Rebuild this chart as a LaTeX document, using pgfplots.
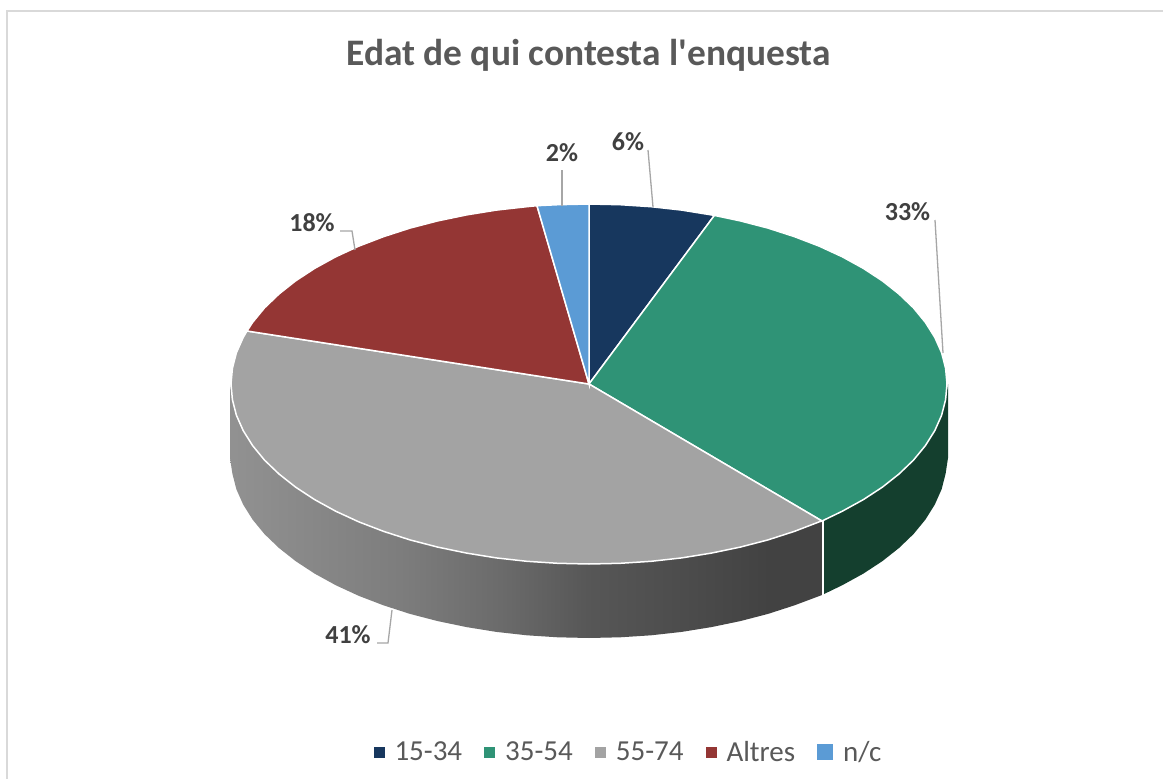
\documentclass[border=0pt]{standalone}
\usepackage{pgfplots}
\pgfplotsset{compat=1.18}
\usepackage{fontspec}
\setmainfont{Carlito}
\definecolor{cNavy}{HTML}{17375E}
\definecolor{cGreen}{HTML}{2F9376}
\definecolor{cGrey}{HTML}{A3A3A3}
\definecolor{cRed}{HTML}{943634}
\definecolor{cBlue}{HTML}{5B9BD5}
\definecolor{cDarkGreen}{HTML}{143F2E}
\definecolor{cLab}{HTML}{404040}
\definecolor{cTxt}{HTML}{595959}
\definecolor{cLead}{HTML}{A6A6A6}
\definecolor{cFrame}{HTML}{D9D9D9}
\pgfdeclarehorizontalshading{wallgrad}{100bp}{
  rgb(0bp)=(.57,.57,.57); rgb(25bp)=(.57,.57,.57);
  rgb(39.4bp)=(.49,.49,.49); rgb(47.8bp)=(.42,.42,.42);
  rgb(55.3bp)=(.34,.34,.34); rgb(63bp)=(.30,.30,.30);
  rgb(70.4bp)=(.26,.26,.26); rgb(75bp)=(.26,.26,.26); rgb(100bp)=(.26,.26,.26)}
\newcommand{\lab}[1]{\fontsize{26}{30}\selectfont\bfseries\textcolor{cLab}{#1}}
\begin{document}
\begin{tikzpicture}
\begin{axis}[
  scale only axis, width=1163pt, height=779pt,
  xmin=0, xmax=1163, ymin=0, ymax=779, y dir=reverse,
  hide axis, clip=true,
  legend columns=5,
  legend style={draw=none, fill=none, at={(axis cs:373.5,752)}, anchor=west, inner sep=0pt, outer sep=0pt,
     text=cTxt, font=\fontsize{29}{33}\selectfont,
     /tikz/every even column/.append style={column sep=20pt},
     /tikz/every odd column/.append style={column sep=8pt}},
  legend cell align=left,
]
% page background
\addplot[fill=white, draw=none, forget plot] coordinates {(0,0) (1163,0) (1163,779) (0,779)} --cycle;
% frame of the chart area
\addplot[cFrame, line width=2pt, forget plot] coordinates {(7,779) (7,11) (1163,11)};

% wall of the 55-74 slice
\addplot[shade, shading=wallgrad, draw=none, forget plot] coordinates {
(230,384) (232.4,399.7) (236.4,415.3) (243.2,430.6) (252.6,445.6) (264.5,460.1) (279,474) (295.7,487.2) (314.8,499.7) (335.9,511.3) (358.9,521.9) (383.7,531.4) (410,539.9) (437.7,547.1) (466.6,553.1) (496.3,557.9) (526.8,561.3) (557.8,563.3) (589,564) (620.2,563.3) (651.2,561.3) (681.7,557.9) (711.4,553.1) (740.3,547.1) (768,539.9) (794.3,531.4) (822,521)
(822,595) (794.3,605.4) (768,613.9) (740.3,621.1) (711.4,627.1) (681.7,631.9) (651.2,635.3) (620.2,637.3) (589,638) (557.8,637.3) (526.8,635.3) (496.3,631.9) (466.6,627.1) (437.7,621.1) (410,613.9) (383.7,605.4) (358.9,595.9) (335.9,585.3) (314.8,573.7) (295.7,561.2) (279,548) (264.5,534.1) (252.6,519.6) (243.2,504.6) (236.4,489.3) (232.4,473.7) (230,458)
} --cycle;

% wall of the 35-54 slice
\addplot[fill=cDarkGreen, draw=none, forget plot] coordinates {
(822,521) (842.1,511.3) (863.2,499.7) (882.3,487.2) (899,474) (913.5,460.1) (925.4,445.6) (934.8,430.6) (941.6,415.3) (945.6,399.7) (948,384)
(948,458) (945.6,473.7) (941.6,489.3) (934.8,504.6) (925.4,519.6) (913.5,534.1) (899,548) (882.3,561.2) (863.2,573.7) (842.1,585.3) (822,595)
} --cycle;
\addplot[white, line width=1.5pt, forget plot] coordinates {(823,521) (823,596)};

% top of the pie; a slice per category
\addplot[fill=cNavy, draw=white, line width=1.5pt, area legend,
  legend image code/.code={\node[fill=cNavy, inner sep=0pt, minimum size=11pt] {};}] coordinates {
(589,384) (589,204) (620.2,204.7) (651.2,206.7) (681.7,210.1) (711.4,214.9) (714.4,215.4)
} --cycle;
\addplot[fill=cGreen, draw=white, line width=1.5pt, area legend,
  legend image code/.code={\node[fill=cGreen, inner sep=0pt, minimum size=11pt] {};}] coordinates {
(589,384) (714.4,215.4) (740.3,220.9) (768,228.1) (794.3,236.6) (819.1,246.1) (842.1,256.7) (863.2,268.3) (882.3,280.8) (899,294) (913.5,307.9) (925.4,322.4) (934.8,337.4) (941.6,352.7) (945.6,368.3) (947,384) (945.6,399.7) (941.6,415.3) (934.8,430.6) (925.4,445.6) (913.5,460.1) (899,474) (882.3,487.2) (863.2,499.7) (842.1,511.3) (822,521)
} --cycle;
\addplot[fill=cGrey, draw=white, line width=1.5pt, area legend,
  legend image code/.code={\node[fill=cGrey, inner sep=0pt, minimum size=11pt] {};}] coordinates {
(589,384) (822,521) (819.1,521.9) (794.3,531.4) (768,539.9) (740.3,547.1) (711.4,553.1) (681.7,557.9) (651.2,561.3) (620.2,563.3) (589,564) (557.8,563.3) (526.8,561.3) (496.3,557.9) (466.6,553.1) (437.7,547.1) (410,539.9) (383.7,531.4) (358.9,521.9) (335.9,511.3) (314.8,499.7) (295.7,487.2) (279,474) (264.5,460.1) (252.6,445.6) (243.2,430.6) (236.4,415.3) (232.4,399.7) (231,384) (232.4,368.3) (236.4,352.7) (243.2,337.4) (247,331)
} --cycle;
\addplot[fill=cRed, draw=white, line width=1.5pt, area legend,
  legend image code/.code={\node[fill=cRed, inner sep=0pt, minimum size=11pt] {};}] coordinates {
(589,384) (247,331) (252.6,322.4) (264.5,307.9) (279,294) (295.7,280.8) (314.8,268.3) (335.9,256.7) (358.9,246.1) (383.7,236.6) (410,228.1) (437.7,220.9) (466.6,214.9) (496.3,210.1) (526.8,206.7) (537,205.7)
} --cycle;
\addplot[fill=cBlue, draw=white, line width=1.5pt, area legend,
  legend image code/.code={\node[fill=cBlue, inner sep=0pt, minimum size=16pt] {};}] coordinates {
(589,384) (537,205.7) (557.8,204.7) (589,204)
} --cycle;
\legend{15-34,35-54,55-74,Altres,n/c}

% leader lines
\addplot[cLead, line width=1.3pt, forget plot] coordinates {(648,150) (653,207)};
\addplot[cLead, line width=1.3pt, forget plot] coordinates {(935,220) (943,353)};
\addplot[cLead, line width=1.3pt, forget plot] coordinates {(377,643) (388,643) (392,610)};
\addplot[cLead, line width=1.3pt, forget plot] coordinates {(340,231) (352,231) (355,250)};
\addplot[cLead, line width=1.3pt, forget plot] coordinates {(562,170) (562,206)};

% texts
\node[anchor=center, text=cTxt] at (axis cs:588.5,55) {\fontsize{37.4}{42}\selectfont\bfseries Edat de qui contesta l\textquotesingle enquesta};
\node[anchor=center] at (axis cs:628,142) {\lab{6\%}};
\node[anchor=center] at (axis cs:562,153) {\lab{2\%}};
\node[anchor=center] at (axis cs:907.5,212) {\lab{33\%}};
\node[anchor=center] at (axis cs:312,223) {\lab{18\%}};
\node[anchor=center] at (axis cs:348,635) {\lab{41\%}};
\end{axis}
\end{tikzpicture}
\end{document}
